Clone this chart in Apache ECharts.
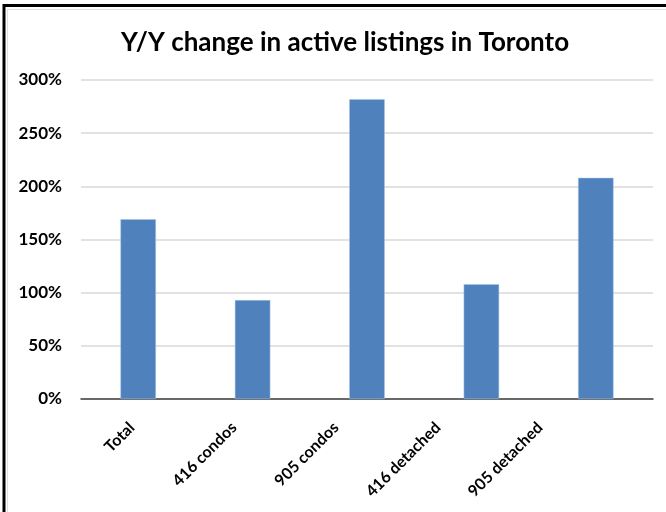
<!DOCTYPE html>
<html><head><meta charset="utf-8">
<script src="https://cdn.jsdelivr.net/npm/echarts@6/dist/echarts.min.js"></script>
<style>html,body{margin:0;padding:0;background:#fff}#c{width:666px;height:512px}</style>
</head><body><div id="c"></div>
<script>
const categories = ["Total", "416 condos", "905 condos", "416 detached", "905 detached"];
const values = [169, 93, 282, 108, 208];
const yTicks = [0, 50, 100, 150, 200, 250, 300];

const chart = echarts.init(document.getElementById('c'), null, {renderer: 'canvas'});
chart.setOption({
  animation: false,
  backgroundColor: '#fff',
  title: {
    text: 'Y/Y change in active listings in Toronto',
    left: 340, top: 25, textAlign: 'center',
    textStyle: {fontFamily: 'Lato', fontWeight: 'bold', fontSize: 26, color: '#000'}
  },
  graphic: [
    {type: 'line', shape: {x1: 3, y1: 5.5, x2: 666, y2: 5.5}, style: {stroke: '#000', lineWidth: 3}},
    {type: 'line', shape: {x1: 4, y1: 4, x2: 4, y2: 512}, style: {stroke: '#000', lineWidth: 3}},
    {type: 'line', shape: {x1: 7, y1: 9.5, x2: 666, y2: 9.5}, style: {stroke: '#e0e0e0', lineWidth: 1}},
    {type: 'line', shape: {x1: 7.5, y1: 9, x2: 7.5, y2: 512}, style: {stroke: '#e0e0e0', lineWidth: 1}}
  ],
  grid: [
    {left: 81, right: 13, top: 80, bottom: 113, containLabel: false},
    {left: 81, right: 75, top: 80, bottom: 113, containLabel: false}
  ],
  xAxis: [{
    type: 'category', data: categories, gridIndex: 0,
    axisTick: {show: false},
    axisLine: {lineStyle: {color: '#404040', width: 1.5}},
    axisLabel: {show: false}
  }, {
    type: 'category', data: categories, gridIndex: 1,
    axisTick: {show: false},
    axisLine: {show: false},
    axisLabel: {rotate: 45, margin: 26, color: '#000', fontFamily: 'Lato', fontWeight: 'bold', fontSize: 16, interval: 0}
  }],
  yAxis: [{
    type: 'value', min: 0, max: 300, interval: 50, gridIndex: 0,
    axisLine: {show: false}, axisTick: {show: false},
    splitLine: {lineStyle: {color: '#d9d9d9', width: 1.5}},
    axisLabel: {margin: 19, color: '#000', fontFamily: 'Lato', fontWeight: 'bold', fontSize: 17,
      formatter: v => yTicks.includes(v) ? v + '%' : ''}
  }, {
    type: 'value', min: 0, max: 300, gridIndex: 1, show: false
  }],
  series: [{
    type: 'bar', data: values, barWidth: '31%', xAxisIndex: 0, yAxisIndex: 0,
    itemStyle: {color: '#4f81bd', borderColor: '#a9c4e6', borderWidth: 0.5}
  }]
});
</script></body></html>
